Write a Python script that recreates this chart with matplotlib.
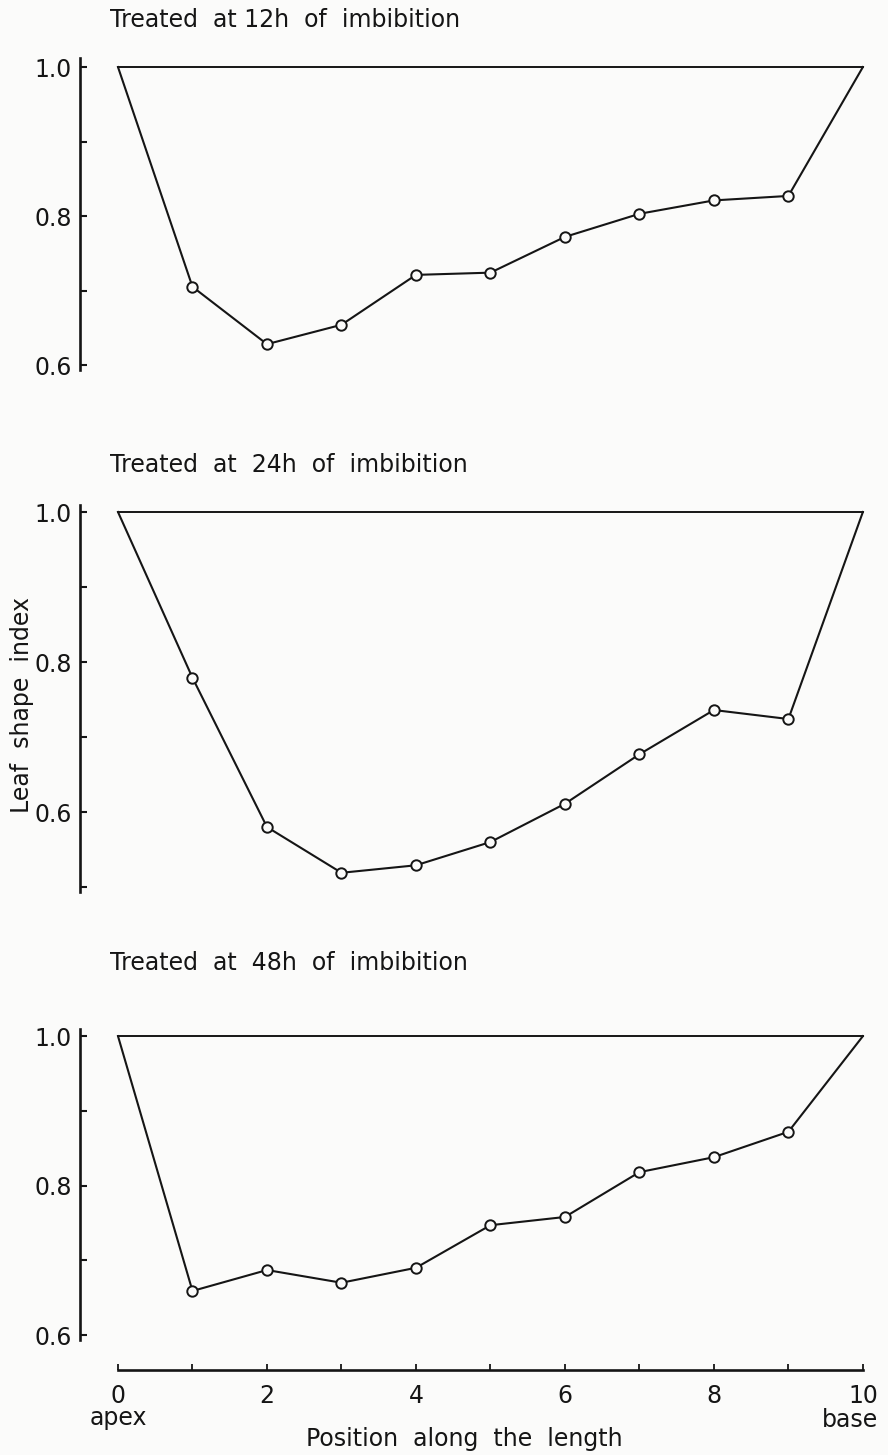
import matplotlib
matplotlib.use("Agg")
import matplotlib.pyplot as plt
from matplotlib.ticker import MultipleLocator
from matplotlib.transforms import blended_transform_factory

plt.rcParams['font.family'] = ['DejaVu Sans']

# Leaf shape index along the leaf (0 = apex, 10 = base)
positions = [0, 1, 2, 3, 4, 5, 6, 7, 8, 9, 10]
index_12h = [1.0, 0.705, 0.628, 0.654, 0.721, 0.724, 0.772, 0.803, 0.821, 0.827, 1.0]
index_24h = [1.0, 0.779, 0.580, 0.519, 0.529, 0.560, 0.611, 0.677, 0.736, 0.724, 1.0]
index_48h = [1.0, 0.659, 0.687, 0.670, 0.690, 0.747, 0.758, 0.818, 0.838, 0.872, 1.0]

titles = ["Treated  at 12h  of  imbibition",
          "Treated  at  24h  of  imbibition",
          "Treated  at  48h  of  imbibition"]
xticks = [0, 2, 4, 6, 8, 10]
xticklabels = ["0", "2", "4", "6", "8", "10"]

ink = "#151515"
paper = "#fbfbfa"
fs = 17

fig = plt.figure(figsize=(8.88, 14.55), dpi=100, facecolor=paper)

# axes boxes [left, bottom, width, height] and y ranges for each panel
boxes = [[0.0901, 0.7457, 0.890, 0.2144],
         [0.0901, 0.3869, 0.890, 0.2660],
         [0.0901, 0.0790, 0.890, 0.2137]]
ylims = [(0.5933, 1.0121), (0.4933, 1.0093), (0.5933, 1.0094)]
title_y = [0.9863, 0.6804, 0.3381]
series = [index_12h, index_24h, index_48h]

axes = []
for i in range(3):
    ax = fig.add_axes(boxes[i])
    ax.set_facecolor(paper)
    vals = series[i]
    # reference line at 1.0 and the measured profile
    ax.plot([positions[0], positions[-1]], [vals[0], vals[-1]], color=ink, lw=1.4)
    ax.plot(positions, vals, color=ink, lw=1.5)
    ax.plot(positions[1:-1], vals[1:-1], ls="none", marker="o", ms=7.5,
            mfc=paper, mec=ink, mew=1.4)

    ax.set_xlim(-0.51, 10.1)
    ax.set_ylim(*ylims[i])
    for s in ["top", "right", "bottom"]:
        ax.spines[s].set_visible(False)
    ax.spines["left"].set_linewidth(1.9)
    ax.spines["left"].set_color(ink)

    ax.yaxis.set_minor_locator(MultipleLocator(0.1))
    ax.set_yticks([0.6, 0.8, 1.0])
    ax.set_yticklabels(["0.6", "0.8", "1.0"])
    ax.tick_params(axis="y", which="both", direction="in", length=5, width=1.5,
                   color=ink, labelsize=fs, labelcolor=ink, pad=6)
    ax.set_xticks([])

    fig.text(110 / 888, title_y[i], titles[i], fontsize=fs, color=ink,
             ha="left", va="center")
    axes.append(ax)

# x axis only under the last panel, detached below the plot
ax = axes[2]
ax.spines["bottom"].set_visible(True)
ax.spines["bottom"].set_position(("outward", 21.6))
ax.spines["bottom"].set_bounds(0, 10)
ax.spines["bottom"].set_linewidth(1.9)
ax.spines["bottom"].set_color(ink)
ax.set_xticks(xticks)
ax.set_xticklabels(xticklabels)
ax.xaxis.set_minor_locator(MultipleLocator(1))
ax.tick_params(axis="x", which="both", direction="in", length=4, width=1.3,
               color=ink, labelsize=fs, labelcolor=ink, pad=10)

# end labels of the position axis
trans = blended_transform_factory(ax.transData, fig.transFigure)
ax.text(0, 1 - 1418 / 1455, "apex", transform=trans, fontsize=fs,
        color=ink, ha="center", va="center")
ax.text(10.2, 1 - 1420 / 1455, "base", transform=trans, fontsize=fs,
        color=ink, ha="right", va="center")

fig.text(464 / 888, 1 - 1439 / 1455, "Position  along  the  length",
         fontsize=fs, color=ink, ha="center", va="center")
fig.text(22 / 888, 1 - 705 / 1455, "Leaf  shape  index", rotation=90,
         fontsize=fs, color=ink, ha="center", va="center")

fig.savefig("out.png", dpi=100, facecolor=paper)
